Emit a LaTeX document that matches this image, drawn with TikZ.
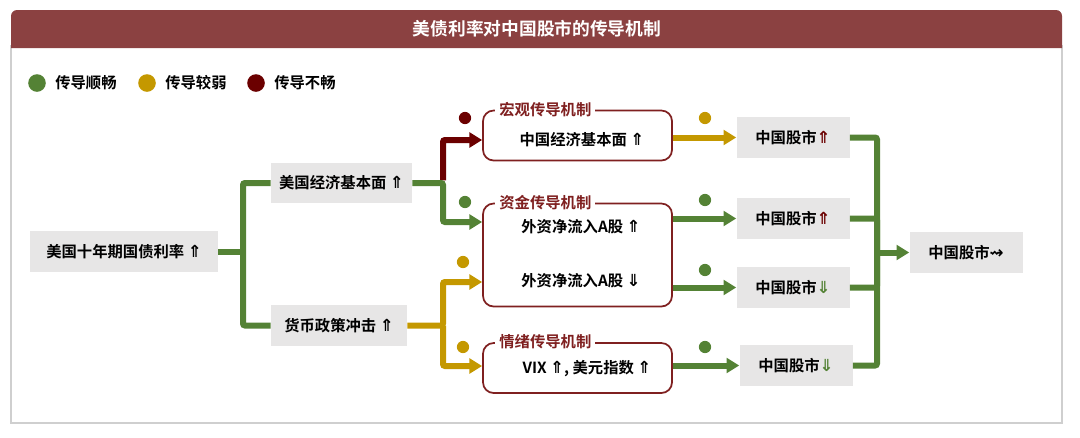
\documentclass[tikz,border=0pt]{standalone}
\usepackage{fontspec}
\setmainfont{Noto Sans CJK SC}[UprightFont={* Bold}]
\newfontfamily\symfont{DejaVu Sans}[UprightFont={* Bold}]
\usepackage{tikz}
\usetikzlibrary{arrows.meta}

\definecolor{okgreen}{HTML}{548235}
\definecolor{weakgold}{HTML}{C49800}
\definecolor{blockred}{HTML}{6B0000}
\definecolor{headred}{HTML}{8B4141}
\definecolor{framered}{HTML}{7F2020}
\definecolor{framegray}{HTML}{CFCFCF}
\definecolor{boxgray}{HTML}{E7E6E6}

\newcommand{\upa}{{\symfont\fontsize{12.5}{14}\selectfont ⇑}}
\newcommand{\dna}{{\symfont\fontsize{12.5}{14}\selectfont ⇓}}
\newcommand{\sidea}{{\symfont\fontsize{12.5}{14}\selectfont ⇝}}

\def\px{0.75pt}

\tikzset{
	greybox/.style={fill=boxgray, inner sep=0pt, font=\fontsize{11.5}{14}\selectfont},
	mechbox/.style={draw=framered, line width=1.3pt, rounded corners=8pt, fill=white, inner sep=0pt},
	mechtitle/.style={fill=white, text=framered, inner xsep=3pt, inner ysep=1pt, anchor=west, font=\fontsize{11.5}{14}\selectfont},
	mechtext/.style={inner sep=0pt, font=\fontsize{11.5}{14}\selectfont},
	flowline/.style={line width=4.5pt, rounded corners=1.5pt},
	flowarrow/.style={flowline, -{Triangle[length=9.5pt,width=11pt]}},
}

\begin{document}
\begin{tikzpicture}[x=\px, y=-\px]
				\useasboundingbox (0,0) rectangle (1080,437);

				\draw[framegray, line width=0.8pt] (11,46) rectangle (1062,423);
				\fill[headred] (11,48) {[rounded corners=4.5pt] -- (11,10) -- (1062,10)} -- (1062,48) -- cycle;
				\node[text=white, font=\fontsize{13.3}{16}\selectfont] (title) at (537,29) {美债利率对中国股市的传导机制};

				\foreach \x/\c/\t in {37/okgreen/传导顺畅, 147/weakgold/传导较弱, 256/blockred/传导不畅} {
					\fill[\c] (\x,83) circle[radius=6.6pt];
					\node[mechtext, anchor=west] (leg-\c) at (\x+18,83) {\t};
				}

				\node[greybox, minimum width=188*\px, minimum height=41*\px] (us) at (124,251.5) {美国十年期国债利率 \upa};
				\node[greybox, minimum width=141*\px, minimum height=40*\px] (econ) at (341.5,183) {美国经济基本面 \upa};
				\node[greybox, minimum width=136*\px, minimum height=41*\px] (mon) at (339,325.5) {货币政策冲击 \upa};

				\node[mechbox, minimum width=189*\px, minimum height=50*\px] (m1) at (577.5,135.5) {};
				\node[mechbox, minimum width=189*\px, minimum height=103*\px] (m2) at (577.5,255) {};
				\node[mechbox, minimum width=189*\px, minimum height=50*\px] (m3) at (577.5,368) {};
				\node[mechtitle] (m1-title) at ([xshift=13*\px]m1.north west) {宏观传导机制};
				\node[mechtitle] (m2-title) at ([xshift=13*\px]m2.north west) {资金传导机制};
				\node[mechtitle] (m3-title) at ([xshift=13*\px]m3.north west) {情绪传导机制};
				\node[mechtext] (t1) at (582,140) {中国经济基本面 \upa};
				\node[mechtext] (t2) at (581,227) {外资净流入A股 \upa};
				\node[mechtext] (t3) at (581,281) {外资净流入A股 \dna};
				\node[mechtext] (t4) at (587,369) {VIX \upa, 美元指数 \upa};

				\foreach \n/\x/\y/\a/\c in {c1/793/137.5/\upa/blockred, c2/793/218.5/\upa/blockred, c3/793/287.5/\dna/okgreen, c4/796/365.5/\dna/okgreen} {
					\node[greybox, minimum width=113*\px, minimum height=41*\px] (\n) at (\x,\y) {中国股市\textcolor{\c}{\a}};
				}
				\node[greybox, minimum width=113*\px, minimum height=41*\px] (fin) at (966,252.5) {中国股市\sidea};

				\coordinate (jl) at (243,251.5);
				\coordinate (jm) at (443,183);
				\coordinate (jg) at (443,325.5);
				\coordinate (jr) at (877,252.5);

				\draw[flowline, okgreen] (us.east) -- (jl);
				\draw[flowline, okgreen] (econ.west) -| (jl) |- (mon.west);
				\draw[flowarrow, blockred] ([yshift=2pt]jm) |- (m1.west |- 0,140);
				\draw[flowarrow, okgreen] (econ.east) -- (jm) |- (m2.west |- 0,222);
				\draw[flowarrow, weakgold] (mon.east) -- (jg) |- (m2.west |- 0,282);
				\draw[flowarrow, weakgold] (jg) |- (m3.west |- 0,366);

				\draw[flowarrow, weakgold] (m1.east |- c1.west) -- (c1.west);
				\draw[flowarrow, okgreen] (m2.east |- c2.west) -- (c2.west);
				\draw[flowarrow, okgreen] (m2.east |- c3.west) -- (c3.west);
				\draw[flowarrow, okgreen] (m3.east |- c4.west) -- (c4.west);

				\draw[flowline, okgreen] (c1.east) -| (jr) |- (c4.east);
				\draw[flowline, okgreen] (c2.east) -| (jr);
				\draw[flowline, okgreen] (c3.east) -| (jr);
				\draw[flowarrow, okgreen] (jr) -- (fin.west);

				\foreach \x/\y/\c in {465/118/blockred, 465/202/okgreen, 463/262/weakgold, 463/347/weakgold, 705/118/weakgold, 705/200/okgreen, 705/270/okgreen, 705/347/okgreen} {
					\fill[\c] (\x,\y) circle[radius=4.6pt];
				}
\end{tikzpicture}
\end{document}
